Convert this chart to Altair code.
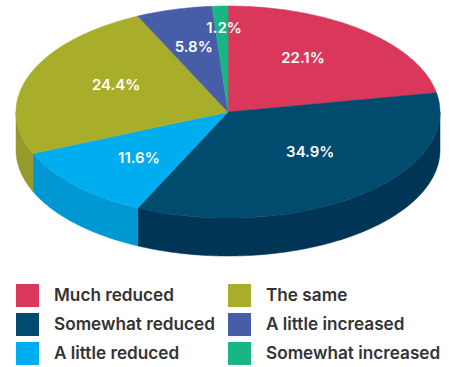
import numpy as np
import altair as alt

# Survey answers and their shares, clockwise from twelve o'clock
categories = ["Much reduced", "Somewhat reduced", "A little reduced",
              "The same", "A little increased", "Somewhat increased"]
shares = [22.1, 34.9, 11.6, 24.4, 5.8, 1.2]

top_colors = ["#d9385a", "#004b6e", "#00aeef", "#a9ae2a", "#475da7", "#17b684"]
wall_colors = ["#b02c48", "#003555", "#0098d3", "#969a2a", "#3a4c8a", "#129469"]

# Placement of the value labels inside each slice
label_radius = [0.62, 0.54, 0.604, 0.586, 0.635, 0.79]
label_turn = [-5.0, -8.3, -2.0, 4.9, 0.0, 0.8]

TILT = 0.5       # vertical squash of the disc
DEPTH = 38 / 212  # wall height, in disc radii
FONT = "Inter"


def rim(a0, a1):
    angles = np.radians(np.arange(a0, a1, 1.0).tolist() + [a1])
    return [[float(np.sin(t)), float(np.cos(t)) * TILT] for t in angles]


def feature(name, ring):
    ring = ring + [ring[0]]
    return {"type": "Feature",
            "geometry": {"type": "Polygon", "coordinates": [ring]},
            "properties": {"name": name}}


edges = np.concatenate([[0], np.cumsum(shares)]) * 3.6
tops, walls, labels = [], [], []
for i, name in enumerate(categories):
    a0, a1 = float(edges[i]), float(edges[i + 1])
    tops.append(feature(name, [[0.0, 0.0]] + rim(a0, a1)))
    # only the front half of the rim shows a wall
    v0, v1 = max(a0, 90.0), min(a1, 270.0)
    if v1 > v0:
        arc = rim(v0, v1)
        walls.append(feature(name, arc + [[x, y - DEPTH] for x, y in reversed(arc)]))
    mid = np.radians((a0 + a1) / 2 + label_turn[i])
    labels.append({"lon": float(np.sin(mid) * label_radius[i]),
                   "lat": float(np.cos(mid) * label_radius[i] * TILT),
                   "text": f"{shares[i]}%"})

projection = dict(type="identity", reflectY=True, scale=212, translate=[228, 112])

wall_layer = (
    alt.Chart(alt.Data(values=walls))
    .mark_geoshape(strokeWidth=0.5)
    .encode(
        color=alt.Color("properties.name:N", legend=None,
                        scale=alt.Scale(domain=categories, range=wall_colors)),
        stroke=alt.Stroke("properties.name:N", legend=None,
                          scale=alt.Scale(domain=categories, range=wall_colors)),
    )
    .project(**projection)
)

top_layer = (
    alt.Chart(alt.Data(values=tops))
    .mark_geoshape(strokeWidth=0.5)
    .encode(
        color=alt.Color(
            "properties.name:N",
            scale=alt.Scale(domain=categories, range=top_colors),
            legend=alt.Legend(
                title=None, orient="none", legendX=16, legendY=284, columns=2,
                symbolType="square", symbolSize=529, symbolStrokeWidth=0,
                symbolOpacity=1, labelFont=FONT, labelFontSize=17.2, labelFontWeight=600,
                labelColor="#333336", labelOffset=15, labelLimit=300,
                rowPadding=6, columnPadding=13,
            ),
        ),
        stroke=alt.Stroke("properties.name:N", legend=None,
                          scale=alt.Scale(domain=categories, range=top_colors)),
    )
    .project(**projection)
)

label_layer = (
    alt.Chart(alt.Data(values=labels))
    .mark_text(font=FONT, fontSize=15, fontWeight=600, color="white")
    .encode(longitude="lon:Q", latitude="lat:Q", text="text:N")
    .project(**projection)
)

chart = (
    alt.layer(wall_layer, top_layer, label_layer)
    .resolve_scale(color="independent", stroke="independent")
    .properties(width=449, height=367, padding=0, autosize=alt.AutoSizeParams(type="none"))
    .configure_view(stroke=None)
)

chart.save("out.html", embed_options={"renderer": "svg", "actions": False})
